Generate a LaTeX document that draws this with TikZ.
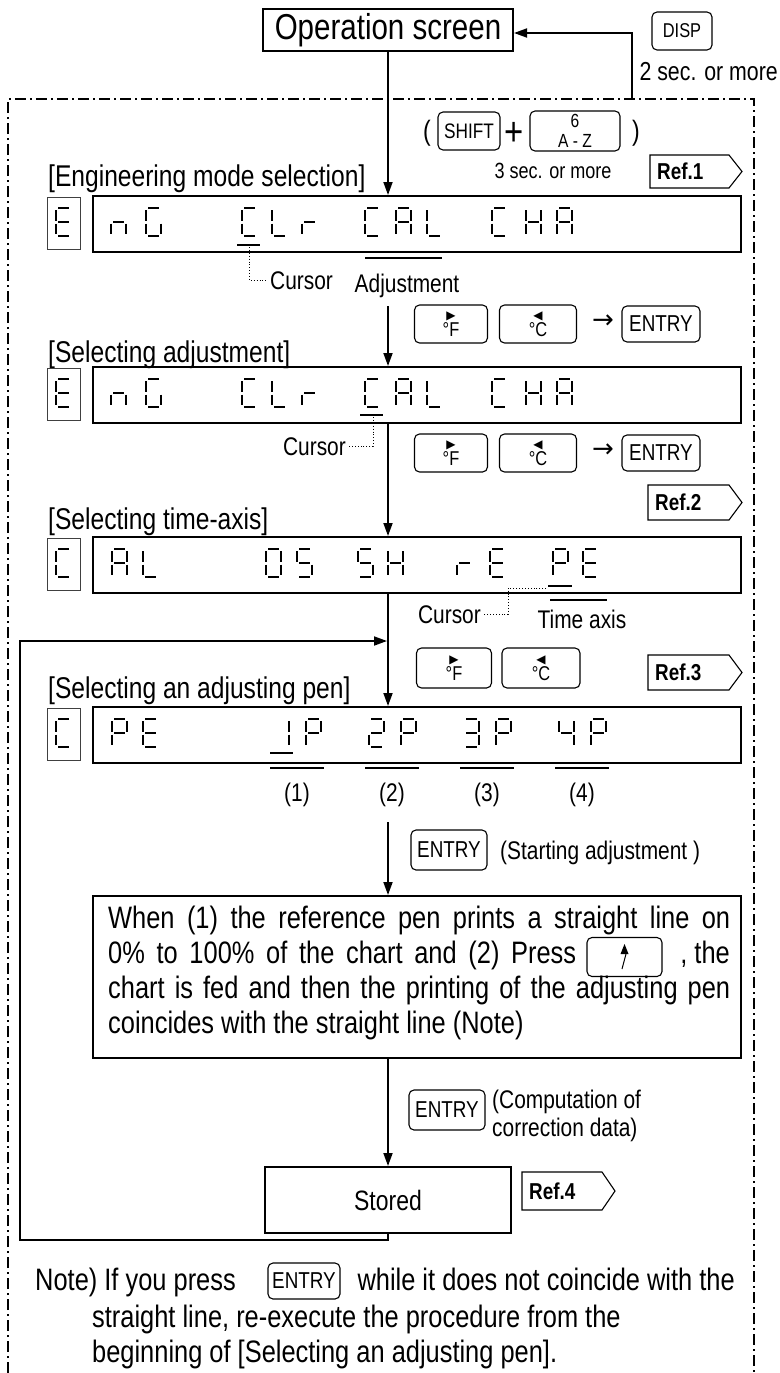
\documentclass[tikz,border=0pt]{standalone}
\usepackage{fontspec}
\setmainfont{Liberation Sans}[FakeStretch=0.82]
\newfontfamily\symfont{DejaVu Sans}
\usetikzlibrary{arrows.meta}

\def\defdig#1#2{\expandafter\def\csname dgX#1\endcsname{#2}}
\defdig{E}{a,d,e,f,g}
\defdig{n}{c,e,g}
\defdig{G}{a,c,d,e,f}
\defdig{C}{a,d,e,f}
\defdig{L}{d,e,f}
\defdig{r}{e,g}
\defdig{A}{a,b,c,e,f,g}
\defdig{H}{b,c,e,f,g}
\defdig{0}{a,b,c,d,e,f}
\defdig{5}{a,c,d,f,g}
\defdig{1}{b,c}
\defdig{P}{a,b,e,f,g}
\defdig{2}{a,b,d,e,g}
\defdig{3}{a,b,c,d,g}
\defdig{4}{b,c,f,g}
\def\defseg#1#2#3#4#5{\expandafter\def\csname sgY#1\endcsname##1##2{\draw[segline] ({##1+#2},{##2+#3}) -- ({##1+#4},{##2+#5});}}
\defseg{a}{2}{0}{13}{0}
\defseg{b}{15}{2}{15}{12.5}
\defseg{c}{15}{15.5}{15}{26}
\defseg{d}{2}{28}{13}{28}
\defseg{e}{0}{15.5}{0}{26}
\defseg{f}{0}{2}{0}{12.5}
\defseg{g}{2}{14}{13}{14}
\newcommand\dchar[3]{\edef\seglist{\csname dgX#3\endcsname}\foreach \s in \seglist {\csname sgY\s\endcsname{#1}{#2}}}

\newcommand\kF{{\symfont\fontsize{12}{12}\selectfont ▶}\\°F}
\newcommand\kC{{\symfont\fontsize{12}{12}\selectfont ◀}\\°C}
\newcommand\reftag[6]{%
  \draw[tag] (#2,#3) -- ({#4-13},#3) -- (#4,{(#3+#5)/2}) -- ({#4-13},#5) -- (#2,#5) -- cycle;
  \node[tagtxt] (#1) at ({#2+7},{(#3+#5)/2}) {#6};}

\begin{document}
\begin{tikzpicture}[x=1pt,y=-1pt,
  ddframe/.style={line width=1.3pt, dash pattern=on 11pt off 4pt on 2pt off 4pt},
  arr/.style={line width=1.8pt, -{Triangle[length=13pt,width=9pt]}},
  keybox/.style={draw, rounded corners=5pt, line width=1.1pt, inner sep=0pt, align=center},
  fkey/.style={keybox, font=\fontsize{20}{17}\selectfont},
  dispbox/.style={draw, line width=2.2pt, inner sep=0pt, anchor=north west},
  cellbox/.style={draw=black!75, line width=1pt, inner sep=0pt, anchor=north west},
  segline/.style={line width=2.8pt},
  cur/.style={line width=2.6pt},
  lbl/.style={font=\fontsize{30}{33}\selectfont, anchor=base west, inner sep=0pt},
  sm/.style={font=\fontsize{25.5}{28}\selectfont, inner sep=0pt},
  body/.style={font=\fontsize{31}{35}\selectfont, inner sep=0pt, anchor=base west},
  dotl/.style={line width=0.9pt, dotted},
  tag/.style={line width=1.1pt},
  tagtxt/.style={font=\fontsize{23}{23}\selectfont\bfseries, inner sep=0pt, anchor=west},
  keytxt/.style={font=\fontsize{23}{23}\selectfont},
]
\useasboundingbox (0,0) rectangle (779,1373);
\fill[white] (0,0) rectangle (779,1373);

% dash-dot frame
\draw[ddframe] (8,1373) -- (8,99) -- (754,99) -- (754,1373);
\coordinate (mx) at (388,0);

% top
\node[draw, line width=2pt, minimum width=250pt, minimum height=42pt, inner sep=0pt, font=\fontsize{36}{38}\selectfont] (op) at (388,30) {Operation screen};
\node[keybox, font=\fontsize{20}{20}\selectfont, minimum width=60pt, minimum height=38pt] (disp) at (682,31) {DISP};
\node[font=\fontsize{26}{28}\selectfont, inner sep=0pt, anchor=base east] (twosec) at (778,80) {2 sec. or more};
\coordinate (dispA) at (632,99);
\coordinate (dispB) at (632,33);
\draw[arr] (dispA) -- (dispB) -- (op.east |- dispB);

\node[font=\fontsize{28}{28}\selectfont, inner sep=0pt] (lpar) at (427,133) {(};
\node[keybox, minimum width=62pt, minimum height=38pt, font=\fontsize{21}{21}\selectfont] (shift) at (469,131) {SHIFT};
\node[font=\fontsize{40}{40}\selectfont, inner sep=0pt] (plus) at (514,134) {+};
\node[keybox, minimum width=90pt, minimum height=40pt, font=\fontsize{19}{20}\selectfont] (az) at (575,131) {6\\A - Z};
\node[font=\fontsize{28}{28}\selectfont, inner sep=0pt] (rpar) at (636,133) {)};
\node[font=\fontsize{22}{24}\selectfont, inner sep=0pt] (threesec) at (553,171) {3 sec. or more};
\reftag{ref1}{650}{155}{742}{188}{Ref.1}

% display 1
\node[lbl] (l1) at (48,186) {[Engineering mode selection]};
\node[cellbox, minimum width=33pt, minimum height=52pt] (c1) at (47,197) {};
\node[dispbox, minimum width=648pt, minimum height=56pt] (d1) at (92,195) {};
\draw[arr] (op.south -| mx) -- (d1.north -| mx);
\dchar{56}{208}{E}
\dchar{111}{208}{n}\dchar{146}{208}{G}
\dchar{242}{208}{C}\dchar{272}{208}{L}\dchar{302}{208}{r}
\dchar{365}{208}{C}\dchar{396}{208}{A}\dchar{427}{208}{L}
\dchar{492}{208}{C}\dchar{526}{208}{H}\dchar{557}{208}{A}
\draw[cur] (237,245) -- (260,245);
\draw[dotl] (249,247) -- (249,280) -- (267,280);
\node[sm, anchor=base west] (cur1) at (270,289) {Cursor};
\draw[line width=2pt] (365,258) -- (442,258);
\node[sm, anchor=base] (adj1) at (407,292) {Adjustment};

% keys row 1
\node[fkey, minimum width=73pt, minimum height=38pt] (f1) at (451,324) {\kF};
\node[fkey, minimum width=77pt, minimum height=38pt] (k1c) at (538,324) {\kC};
\node[font=\symfont\fontsize{26}{26}\selectfont, inner sep=0pt] (ar1) at (603,322) {→};
\node[keybox, keytxt, minimum width=78pt, minimum height=36pt] (e1) at (661,324) {ENTRY};

% display 2
\node[lbl] (l2) at (48,362) {[Selecting adjustment]};
\node[cellbox, minimum width=33pt, minimum height=52pt] (c2) at (47,368) {};
\node[dispbox, minimum width=648pt, minimum height=56pt] (d2) at (92,366) {};
\coordinate (s2) at (388,306);
\draw[arr] (s2) -- (d2.north -| mx);
\dchar{56}{379}{E}
\dchar{111}{379}{n}\dchar{146}{379}{G}
\dchar{242}{379}{C}\dchar{272}{379}{L}\dchar{302}{379}{r}
\dchar{365}{379}{C}\dchar{396}{379}{A}\dchar{427}{379}{L}
\dchar{492}{379}{C}\dchar{526}{379}{H}\dchar{557}{379}{A}
\draw[cur] (360,415) -- (383,415);
\draw[dotl] (373,417) -- (373,446) -- (349,446);
\node[sm, anchor=base east] (cur2) at (346,455) {Cursor};

% keys row 2
\node[fkey, minimum width=73pt, minimum height=38pt] (f2) at (451,453) {\kF};
\node[fkey, minimum width=77pt, minimum height=38pt] (k2c) at (538,453) {\kC};
\node[font=\symfont\fontsize{26}{26}\selectfont, inner sep=0pt] (ar2) at (603,451) {→};
\node[keybox, keytxt, minimum width=78pt, minimum height=36pt] (e2) at (661,453) {ENTRY};
\reftag{ref2}{648}{485}{742}{520}{Ref.2}

% display 3
\node[lbl] (l3) at (48,529) {[Selecting time-axis]};
\node[cellbox, minimum width=33pt, minimum height=52pt] (c3) at (47,538) {};
\node[dispbox, minimum width=648pt, minimum height=56pt] (d3) at (92,536) {};
\draw[arr] (d2.south -| mx) -- (d3.north -| mx);
\dchar{56}{549}{C}
\dchar{112}{549}{A}\dchar{143}{549}{L}
\dchar{266}{549}{0}\dchar{297}{549}{5}
\dchar{358}{549}{5}\dchar{388}{549}{H}
\dchar{457}{549}{r}\dchar{490}{549}{E}
\dchar{553}{549}{P}\dchar{583}{549}{E}
\draw[cur] (548,586) -- (572,586);
\draw[dotl] (546,588) -- (508,588) -- (508,614) -- (484,614);
\node[sm, anchor=base east] (cur3) at (481,623) {Cursor};
\draw[line width=2pt] (550,600) -- (607,600);
\node[sm, anchor=base] (tax) at (582,628) {Time axis};

% keys row 3
\node[fkey, minimum width=75pt, minimum height=40pt] (f3) at (454,668) {\kF};
\node[fkey, minimum width=78pt, minimum height=40pt] (k3c) at (541,668) {\kC};
\reftag{ref3}{648}{655}{742}{690}{Ref.3}

% display 4
\node[lbl] (l4) at (48,698) {[Selecting an adjusting pen]};
\node[cellbox, minimum width=33pt, minimum height=52pt] (c4) at (47,708) {};
\node[dispbox, minimum width=648pt, minimum height=56pt] (d4) at (92,706) {};
\draw[arr] (d3.south -| mx) -- (d4.north -| mx);
\dchar{56}{719}{C}
\dchar{112}{719}{P}\dchar{143}{719}{E}
\dchar{274}{719}{1}\dchar{306}{719}{P}
\dchar{369}{719}{2}\dchar{401}{719}{P}
\dchar{464}{719}{3}\dchar{496}{719}{P}
\dchar{559}{719}{4}\dchar{591}{719}{P}
\draw[cur] (270,753) -- (293,753);
\draw[line width=2pt] (270,768) -- (324,768);
\draw[line width=2pt] (365,768) -- (419,768);
\draw[line width=2pt] (460,768) -- (514,768);
\draw[line width=2pt] (555,768) -- (609,768);
\node[sm, anchor=base] (n1) at (297,801) {(1)};
\node[sm, anchor=base] (n2) at (392,801) {(2)};
\node[sm, anchor=base] (n3) at (487,801) {(3)};
\node[sm, anchor=base] (n4) at (582,801) {(4)};

% entry -> text box
\node[keybox, keytxt, minimum width=76pt, minimum height=40pt] (ent2) at (449,850) {ENTRY};
\node[sm, anchor=base west] (start) at (500,859) {(Starting adjustment )};
\node[draw, line width=2pt, minimum width=648pt, minimum height=162pt, anchor=north west, inner sep=0pt] (tb) at (92,895) {};
\coordinate (s5) at (388,822);
\draw[arr] (s5) -- (tb.north -| mx);
\node[body] (t1) at (108,928) {\makebox[622pt][s]{When (1) the reference pen prints a straight line on}};
\node[body] (t2) at (108,963) {\makebox[468pt][s]{0\% to 100\% of the chart and (2) Press}};
\node[keybox, minimum width=75pt, minimum height=39pt] (kup) at (624.5,957) {};
\fill ([shift={(-4,-3)}]kup.center) -- ([shift={(4,-3)}]kup.center) -- ([shift={(0,-13)}]kup.center) -- cycle;
\draw[line width=1pt] ([shift={(-2.5,12)}]kup.center) -- ([shift={(1.5,-3)}]kup.center);
\node[body, anchor=base east] (t2b) at (730,963) {, the};
\node[body] (t3) at (108,998) {\makebox[622pt][s]{chart is fed and then the printing of the adjusting pen}};
\node[body] (t4) at (108,1033) {coincides with the straight line (Note)};

% entry -> stored
\node[keybox, keytxt, minimum width=76pt, minimum height=40pt] (ent3) at (447,1110) {ENTRY};
\node[sm, anchor=base west] (comp1) at (492,1108) {(Computation of};
\node[sm, anchor=base west] (comp2) at (492,1136) {correction data)};
\node[draw, line width=2pt, minimum width=246pt, minimum height=66pt, inner sep=0pt, font=\fontsize{28}{30}\selectfont] (st) at (388,1200) {Stored};
\draw[arr] (tb.south -| mx) -- (st.north -| mx);
\reftag{ref4}{522}{1172}{615}{1210}{Ref.4}
\coordinate (lpa) at (20,1240);
\coordinate (lpb) at (20,641);
\coordinate (lpc) at (387,641);
\draw[arr] (st.south) |- (lpa) -- (lpb) -- (lpc);

% note
\node[body] (note1) at (35,1290) {Note) If you press};
\node[keybox, keytxt, minimum width=72pt, minimum height=36pt] (ent4) at (304,1281) {ENTRY};
\node[body, anchor=base east] (note1b) at (735,1290) {while it does not coincide with the};
\node[body] (note2) at (92,1327) {straight line, re-execute the procedure from the};
\node[body] (note3) at (92,1362) {beginning of [Selecting an adjusting pen].};
\end{tikzpicture}
\end{document}
